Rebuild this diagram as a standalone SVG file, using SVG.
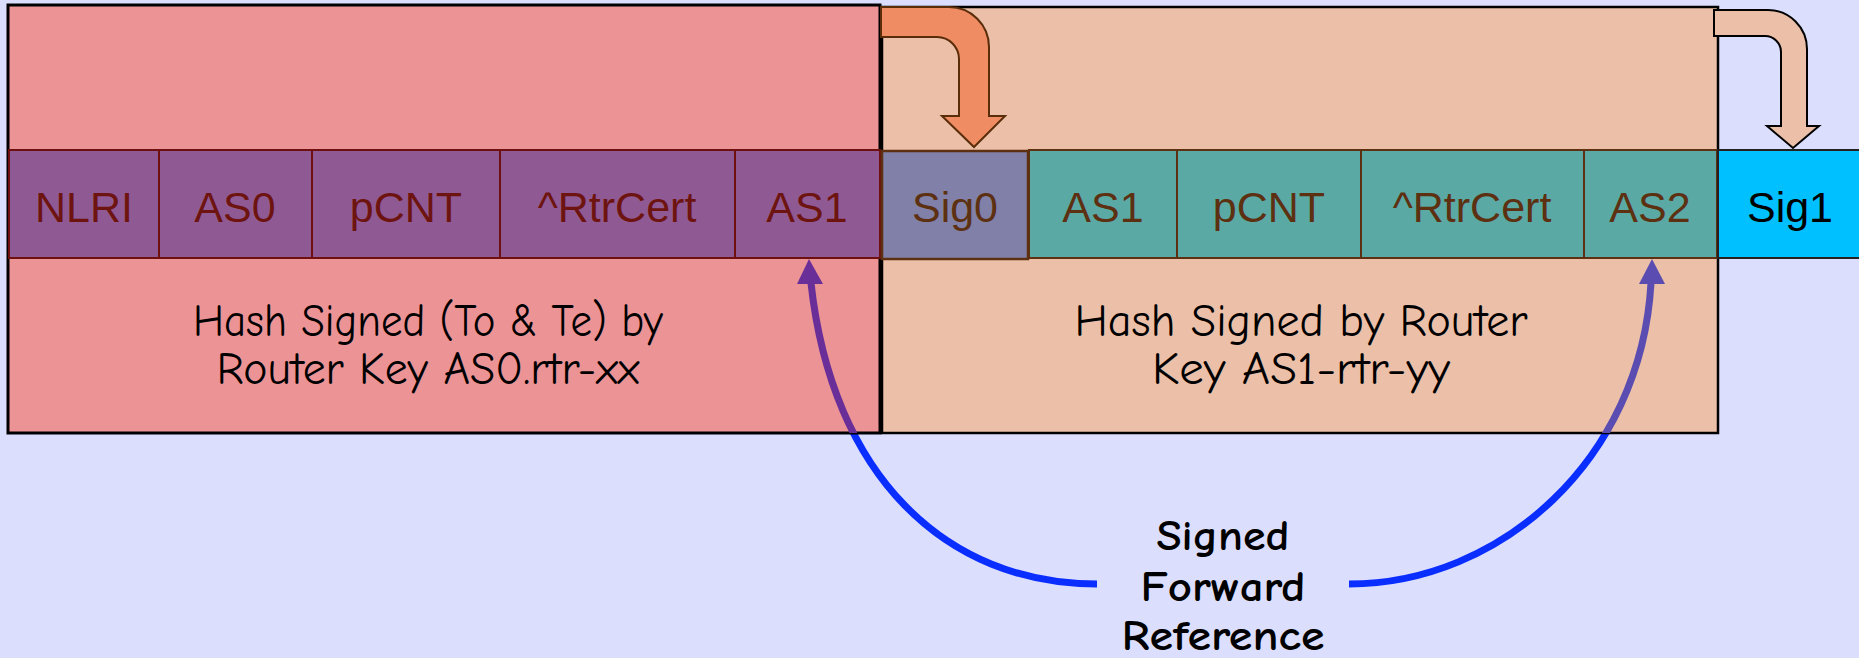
<svg xmlns="http://www.w3.org/2000/svg" width="1859" height="658" viewBox="0 0 1859 658">
<defs>
<style>
.cellA{fill:#8F5A94;stroke:#6E1010;stroke-width:2}
.cellS{fill:#8080A8;stroke:#5C3010;stroke-width:2.5}
.cellT{fill:#5BA9A5;stroke:#5C3010;stroke-width:2}
.cellB{fill:#00C0FF;stroke:#222;stroke-width:2}
.tA{font-family:"Liberation Sans",Arial,sans-serif;font-size:43px;fill:#6E1410;text-anchor:middle}
.tT{font-family:"Liberation Sans",Arial,sans-serif;font-size:43px;fill:#5C3010;text-anchor:middle}
.tB{font-family:"Liberation Sans",Arial,sans-serif;font-size:43px;fill:#000;text-anchor:middle}
.hash{font-family:"Comic Sans MS","Comic Neue","DejaVu Sans",sans-serif;font-size:46px;fill:#000;text-anchor:middle}
.sfr{font-family:"Comic Sans MS","Comic Neue","DejaVu Sans",sans-serif;font-size:42px;font-weight:bold;fill:#000;text-anchor:middle}
.blue{fill:none;stroke:#0A2EFF;stroke-width:7}
</style>
<clipPath id="clipPink"><rect x="8" y="5" width="872" height="428"/></clipPath>
<clipPath id="clipPeach"><rect x="882" y="7" width="836" height="426"/></clipPath>
</defs>
<rect x="0" y="0" width="1859" height="658" fill="#DCDEFE"/>

<g id="connectors-under">
<path class="blue" d="M1097,584 C945,584 832,475 811,283"/>
<path class="blue" d="M1349,584 C1500,584 1641,460 1651,283"/>
</g>

<g id="box-as0">
<rect x="8" y="5" width="872" height="428" fill="#EC9396" stroke="#000" stroke-width="3"/>
<text class="hash" x="428" y="336" textLength="470" lengthAdjust="spacingAndGlyphs">Hash Signed (To &amp; Te) by</text>
<text class="hash" x="428" y="384" textLength="423" lengthAdjust="spacingAndGlyphs">Router Key AS0.rtr-xx</text>
</g>
<g id="box-as1">
<rect x="882" y="7" width="836" height="426" fill="#EBBFA8" stroke="#000" stroke-width="2.5"/>
<text class="hash" x="1301" y="336" textLength="453" lengthAdjust="spacingAndGlyphs">Hash Signed by Router</text>
<text class="hash" x="1301" y="384" textLength="298" lengthAdjust="spacingAndGlyphs">Key AS1-rtr-yy</text>
</g>

<g id="connectors">
<g clip-path="url(#clipPink)">
<path d="M1097,584 C945,584 832,475 811,283" fill="none" stroke="#6A2E98" stroke-width="7"/>
<polygon points="809,259 797,284 823,284" fill="#6A2E98"/>
</g>
<g clip-path="url(#clipPeach)">
<path d="M1349,584 C1500,584 1641,460 1651,283" fill="none" stroke="#5A4CB0" stroke-width="7"/>
<polygon points="1652,259 1639,284 1665,284" fill="#5A4CB0"/>
</g>
<path d="M881,7 H949 A40,40 0 0 1 989,47 V116 H1005 L974,147 L942,116 H959 V59 A22,22 0 0 0 937,37 H881 Z" fill="#F08C64" stroke="#5A2D0A" stroke-width="2"/>
<path d="M1714,10 H1768 A39,39 0 0 1 1807,49 V126 H1819 L1793,148 L1767,126 H1781 V52 A16,16 0 0 0 1765,36 H1714 Z" fill="#EBBFA8" stroke="#000" stroke-width="2"/>
</g>

<g id="cell-nlri"><rect class="cellA" x="9" y="150" width="150" height="108"/><text class="tA" x="84" y="222">NLRI</text></g>
<g id="cell-as0"><rect class="cellA" x="159" y="150" width="153" height="108"/><text class="tA" x="235" y="222">AS0</text></g>
<g id="cell-pcnt0"><rect class="cellA" x="312" y="150" width="188" height="108"/><text class="tA" x="406" y="222">pCNT</text></g>
<g id="cell-rtrcert0"><rect class="cellA" x="500" y="150" width="235" height="108"/><text class="tA" x="617" y="222">^RtrCert</text></g>
<g id="cell-as1a"><rect class="cellA" x="735" y="150" width="145" height="108"/><text class="tA" x="807" y="222">AS1</text></g>
<g id="cell-sig0"><rect class="cellS" x="882" y="151" width="146" height="108"/><text class="tT" x="955" y="222">Sig0</text></g>
<g id="cell-as1b"><rect class="cellT" x="1029" y="150" width="148" height="108"/><text class="tT" x="1103" y="222">AS1</text></g>
<g id="cell-pcnt1"><rect class="cellT" x="1177" y="150" width="184" height="108"/><text class="tT" x="1269" y="222">pCNT</text></g>
<g id="cell-rtrcert1"><rect class="cellT" x="1361" y="150" width="223" height="108"/><text class="tT" x="1472" y="222">^RtrCert</text></g>
<g id="cell-as2"><rect class="cellT" x="1584" y="150" width="133" height="108"/><text class="tT" x="1650" y="222">AS2</text></g>
<g id="cell-sig1"><rect class="cellB" x="1718" y="150" width="150" height="108"/><text class="tB" x="1790" y="222">Sig1</text></g>

<g id="label-sfr">
<text class="sfr" x="1223" y="550" textLength="133" lengthAdjust="spacingAndGlyphs">Signed</text>
<text class="sfr" x="1223" y="601" textLength="165" lengthAdjust="spacingAndGlyphs">Forward</text>
<text class="sfr" x="1223" y="650" textLength="203" lengthAdjust="spacingAndGlyphs">Reference</text>
</g>
</svg>
